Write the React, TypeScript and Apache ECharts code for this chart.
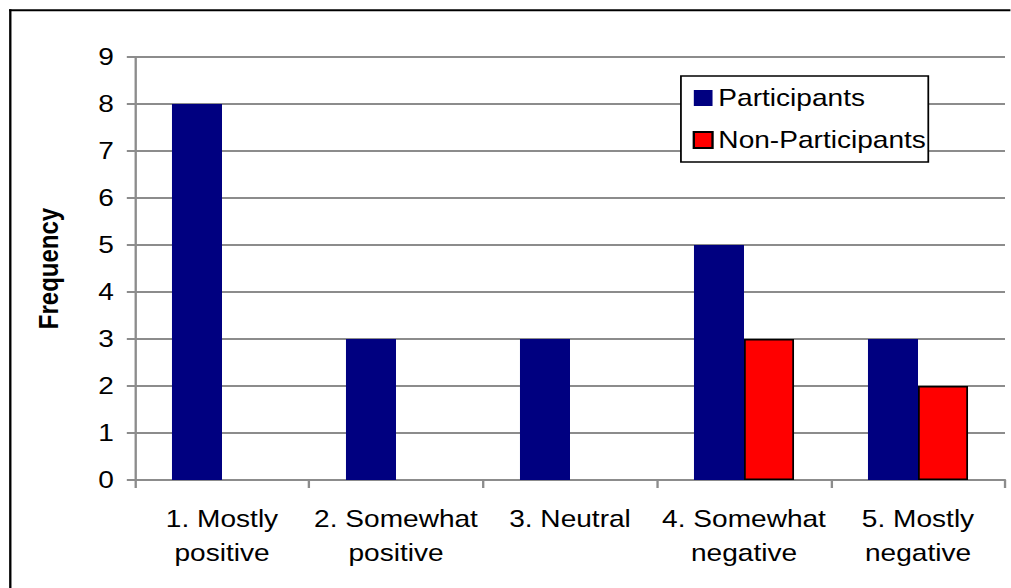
import React, { useEffect, useRef } from "react";
import * as echarts from "echarts";

const categories = [
  "1. Mostly\npositive",
  "2. Somewhat\npositive",
  "3. Neutral",
  "4. Somewhat\nnegative",
  "5. Mostly\nnegative",
];
const participants = [8, 3, 3, 5, 3];
const nonParticipants = [0, 0, 0, 3, 2];
const yTicks = [0, 1, 2, 3, 4, 5, 6, 7, 8, 9];

const S = 1.17; // horizontal stretch of the reference rendering
const W = 1011 / S;
const H = 588;
const FONT = "'Liberation Sans', Arial, sans-serif";
const GRID_COLOR = "#8c8c8c";

export default function App() {
  const ref = useRef<HTMLDivElement>(null);
  useEffect(() => {
    if (!ref.current) return;
    const chart = echarts.init(ref.current, null, { renderer: "svg", width: W, height: H });
    const bx = 10.3 / S;
    const by = 10.3;
    const option: any = {
      animation: false,
      backgroundColor: "#ffffff",
      textStyle: { fontFamily: FONT },
      graphic: [
        {
          type: "line",
          shape: { x1: bx - 1, y1: by, x2: W - 0.5, y2: by },
          style: { stroke: "#000", lineWidth: 2 },
          z: 100,
        },
        {
          type: "line",
          shape: { x1: bx, y1: by - 1, x2: bx, y2: H },
          style: { stroke: "#000", lineWidth: 2 },
          z: 100,
        },
      ],
      grid: {
        left: 135 / S,
        right: W - 1005 / S,
        top: 57,
        bottom: 108,
        containLabel: false,
        outerBoundsMode: "none",
      },
      legend: {
        orient: "vertical",
        left: 582,
        top: 76,
        padding: [10, 2, 10, 10],
        icon: "rect",
        itemWidth: 16,
        itemHeight: 16,
        itemGap: 18,
        borderColor: "#000",
        borderWidth: 1.5,
        backgroundColor: "#fff",
        textStyle: { fontSize: 24, color: "#000", fontFamily: FONT },
        data: ["Participants", "Non-Participants"],
      },
      xAxis: {
        type: "category",
        data: categories,
        axisLine: { lineStyle: { color: GRID_COLOR, width: 2 } },
        axisTick: { show: true, alignWithLabel: false, length: 8, lineStyle: { color: GRID_COLOR, width: 2 } },
        axisLabel: {
          interval: 0,
          fontSize: 24,
          lineHeight: 34.5,
          margin: 21,
          color: "#000",
          fontFamily: FONT,
        },
      },
      yAxis: {
        type: "value",
        min: yTicks[0],
        max: yTicks[yTicks.length - 1],
        interval: 1,
        name: "Frequency",
        nameLocation: "middle",
        nameGap: 62,
        nameRotate: 90,
        nameTextStyle: { fontSize: 24, fontWeight: "bold", color: "#000", fontFamily: FONT },
        axisLine: { show: true, lineStyle: { color: GRID_COLOR, width: 2 } },
        axisTick: { show: true, length: 7, lineStyle: { color: GRID_COLOR, width: 2 } },
        axisLabel: { fontSize: 24, color: "#000", margin: 18, fontFamily: FONT },
        splitLine: { show: true, lineStyle: { color: GRID_COLOR, width: 2 } },
      },
      series: [
        {
          name: "Participants",
          type: "bar",
          data: participants,
          barGap: "0%",
          barCategoryGap: "42.5%",
          itemStyle: { color: "#000080" },
        },
        {
          name: "Non-Participants",
          type: "bar",
          data: nonParticipants.map((v) => (v === 0 ? { value: v, itemStyle: { borderWidth: 0 } } : v)),
          barGap: "0%",
          barCategoryGap: "42.5%",
          itemStyle: { color: "#ff0000", borderColor: "#000", borderWidth: 1.5 },
        },
      ],
    };
    chart.setOption(option);
    return () => chart.dispose();
  }, []);
  return (
    <div
      style={{
        position: "absolute",
        left: 0,
        top: 0,
        width: 1011,
        height: H,
        overflow: "hidden",
        background: "#fff",
      }}
    >
      <div
        ref={ref}
        style={{
          width: W,
          height: H,
          overflow: "hidden",
          transform: `scaleX(${S})`,
          transformOrigin: "0 0",
        }}
      />
    </div>
  );
}
